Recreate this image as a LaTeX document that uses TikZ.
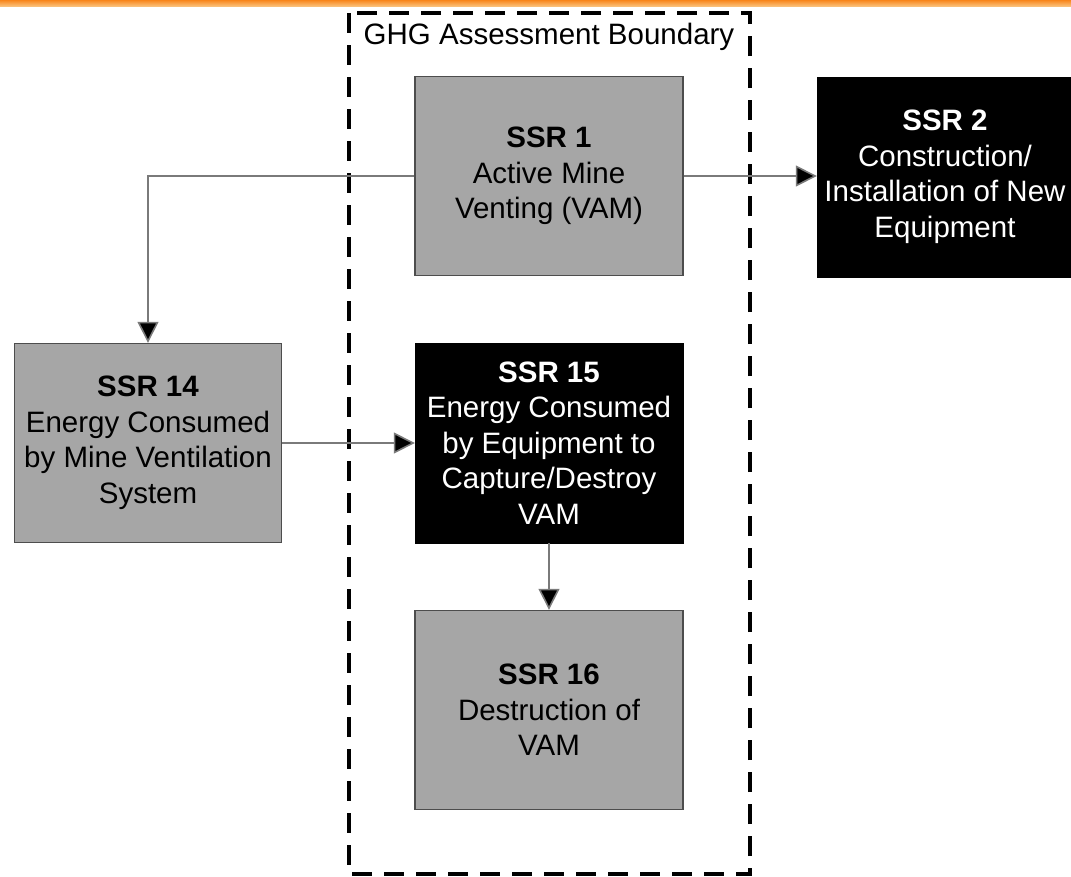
\documentclass[tikz,border=0pt]{standalone}
\usepackage{fontspec}
\setmainfont{Liberation Sans}
\definecolor{ghgGray}{HTML}{A6A6A6}
\definecolor{ghgEdge}{HTML}{4D4D4D}
\definecolor{ghgLine}{HTML}{7A7A7A}
\definecolor{ghgOrange}{HTML}{F7941D}
\usepackage{tikz}
\usetikzlibrary{positioning,arrows.meta,calc}
\newcommand{\ssrbox}[6]{%
\ifnum#6=1
 \node[fill=black, draw=black, text=white, minimum width=#5, minimum height=200, inner sep=0pt, align=center, font=\fontsize{29.5}{35.5}\selectfont] (#2) at (#1) {\textbf{SSR #3}\\#4};%
\else
 \node[fill=ghgGray, draw=ghgEdge, line width=1.4pt, text=black, minimum width=#5, minimum height=199, inner sep=0pt, align=center, font=\fontsize{29.5}{35.5}\selectfont] (#2) at (#1) {\textbf{SSR #3}\\#4};%
\fi}

\begin{document}
\begin{tikzpicture}[x=1pt, y=-1pt,
  flow/.style={draw=ghgLine, line width=1.6pt, -{Triangle[length=21pt, width=21pt, fill=black]}},
  boundary/.style={draw=black, line width=3.2pt, dash pattern=on 20pt off 12pt}]
\useasboundingbox (0,0) rectangle (1071,876);
\fill[top color=ghgOrange!90!red, bottom color=ghgOrange!60] (0,0) rectangle (1071,6);
\draw[boundary] (349,13) rectangle (750,874);
\node[font=\fontsize{29.5}{35.5}\selectfont, inner sep=0pt] (bndlabel) at (549,37) {GHG Assessment Boundary};
\ssrbox{549,176}{ssr1}{1}{Active Mine\\Venting (VAM)}{268}{0}
\ssrbox{945,177}{ssr2}{2}{Construction/\\Installation of New\\Equipment}{256}{1}
\ssrbox{148,443}{ssr14}{14}{Energy Consumed\\by Mine Ventilation\\System}{267}{0}
\ssrbox{549,443}{ssr15}{15}{Energy Consumed\\by Equipment to\\Capture/Destroy\\VAM}{268}{1}
\ssrbox{549,710}{ssr16}{16}{Destruction of\\VAM}{268}{0}
\draw[flow] (ssr1.west) -| (ssr14.north);
\draw[flow] (ssr1.east) -- (ssr1.east -| ssr2.west);
\draw[flow] (ssr14.east) -- (ssr15.west);
\draw[flow] (ssr15.south) -- (ssr16.north);
\end{tikzpicture}
\end{document}
